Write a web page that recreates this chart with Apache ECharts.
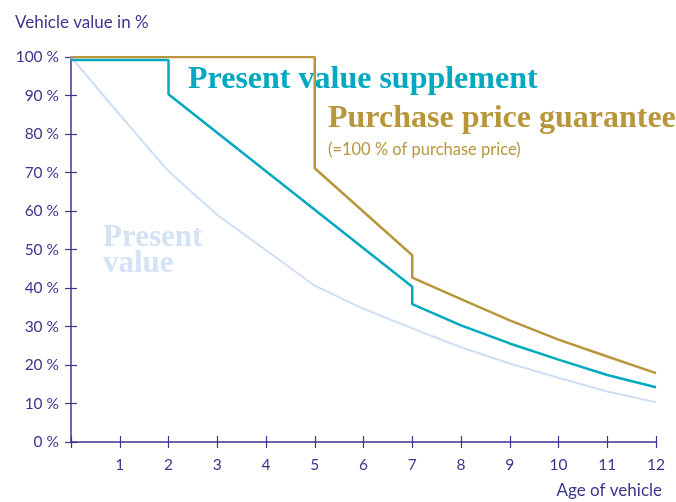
<!DOCTYPE html>
<html><head><meta charset="utf-8">
<script src="https://cdn.jsdelivr.net/npm/echarts@6/dist/echarts.min.js"></script>
<style>html,body{margin:0;padding:0;background:#fff}#c{width:676px;height:502px}</style>
</head><body><div id="c"></div>
<script>
const xTicks = [0,1,2,3,4,5,6,7,8,9,10,11,12];
const yTicks = [0,10,20,30,40,50,60,70,80,90,100];
const presentValueX = [0,1,2,3,4,5,6,7,8,9,10,11,12];
const presentValueY = [100,85,70.3,59,49.8,40.6,34.6,29.5,24.6,20.4,16.7,13.1,10.3];
const supplementX = [0,2,2,7,7,8,9,10,11,12];
const supplementY = [99.2,99.2,90.3,40.3,35.8,30.3,25.6,21.4,17.4,14.2];
const guaranteeX = [0,5,5,7,7,8,9,10,11,12];
const guaranteeY = [100,100,71.1,48.5,42.7,37.1,31.6,26.6,22.2,17.9];

const AX = '#3b368c';
const zip = (xs, ys) => xs.map((x,i) => [x, ys[i]]);
const sans = 'Lato, "Noto Sans", sans-serif';
const serif = '"Liberation Serif", serif';

const chart = echarts.init(document.getElementById('c'), null, {renderer:'canvas'});
const baseX = {type:'value', min:xTicks[0], max:xTicks[xTicks.length-1], interval:1};
const baseY = {type:'value', min:yTicks[0], max:yTicks[yTicks.length-1], interval:10};
chart.setOption({
  animation:false,
  grid:{left:71, right:20, top:57, bottom:60, containLabel:false},
  xAxis:[
    Object.assign({}, baseX, {
      axisLine:{lineStyle:{color:AX, width:1.5}},
      axisTick:{show:true, inside:false, length:6, lineStyle:{color:AX, width:1.2}},
      axisLabel:{color:AX, fontFamily:sans, fontSize:15.5, margin:15,
        formatter:v => v === 0 ? '' : String(v)},
      splitLine:{show:false}
    }),
    Object.assign({}, baseX, {
      position:'bottom',
      axisLine:{show:false},
      axisTick:{show:true, inside:true, length:6, lineStyle:{color:AX, width:1.2}},
      axisLabel:{show:false}, splitLine:{show:false}
    })
  ],
  yAxis:[
    Object.assign({}, baseY, {
      axisLine:{show:true, lineStyle:{color:AX, width:1.5}},
      axisTick:{show:true, inside:false, length:6, lineStyle:{color:AX, width:1.2}},
      axisLabel:{color:AX, fontFamily:sans, fontSize:15.5, margin:12, formatter:'{value} %'},
      splitLine:{show:false}
    }),
    Object.assign({}, baseY, {
      position:'left',
      axisLine:{show:false},
      axisTick:{show:true, inside:true, length:6, lineStyle:{color:AX, width:1.2}},
      axisLabel:{show:false}, splitLine:{show:false}
    })
  ],
  series:[
    {type:'line', name:'Present value', data:zip(presentValueX, presentValueY),
      showSymbol:false, lineStyle:{color:'#cfdff3', width:2}, z:2},
    {type:'line', name:'Present value supplement', data:zip(supplementX, supplementY),
      showSymbol:false, lineStyle:{color:'#00a9bf', width:2.5}, z:3},
    {type:'line', name:'Purchase price guarantee', data:zip(guaranteeX, guaranteeY),
      showSymbol:false, lineStyle:{color:'#b8963c', width:2.5}, z:4}
  ],
  graphic:[
    {type:'text', left:15, top:14, style:{text:'Vehicle value in %', fill:AX, font:'17px ' + sans}},
    {type:'text', right:14, top:482, style:{text:'Age of vehicle', fill:AX, font:'17px ' + sans}},
    {type:'text', left:188, top:64, style:{text:'Present value supplement', fill:'#00a9bf', font:'bold 32px ' + serif}},
    {type:'text', left:328, top:103, style:{text:'Purchase price guarantee', fill:'#b8963c', font:'bold 32px ' + serif}},
    {type:'text', left:328, top:141, style:{text:'(=100 % of purchase price)', fill:'#b8963c', font:'16.5px ' + sans}},
    {type:'text', left:103, top:222, style:{text:'Present\nvalue', fill:'#d3e2f4', font:'bold 31px ' + serif, lineHeight:26}}
  ]
});
</script></body></html>
